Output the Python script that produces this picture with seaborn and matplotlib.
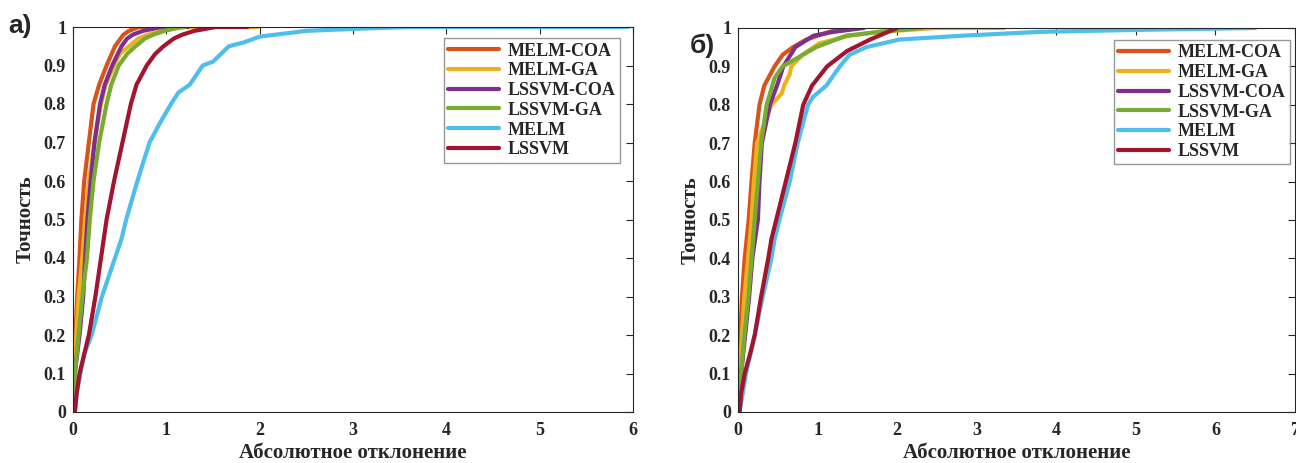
import numpy as np
import pandas as pd
import matplotlib
matplotlib.use("Agg")
import matplotlib.pyplot as plt
import seaborn as sns
from matplotlib.lines import Line2D

sns.set_theme(style="white")
plt.rcParams['font.family'] = ['Liberation Serif', 'DejaVu Serif']
plt.rcParams['font.weight'] = 'bold'

models = ["MELM-COA", "MELM-GA", "LSSVM-COA", "LSSVM-GA", "MELM", "LSSVM"]
colors = ["#D95319", "#EDB120", "#7E2F8E", "#77AC30", "#4DBEEE", "#A2142F"]

# ---- panel а) ----
a_melm_coa_x = [0, 0.01, 0.025, 0.045, 0.07, 0.09, 0.12, 0.17, 0.22, 0.28, 0.36, 0.45, 0.54, 0.6, 0.71, 0.8]
a_melm_coa_y = [0, 0.1, 0.2, 0.3, 0.4, 0.5, 0.6, 0.7, 0.8, 0.85, 0.9, 0.95, 0.98, 0.99, 1.0, 1.0]
a_melm_ga_x = [0, 0.015, 0.035, 0.06, 0.1, 0.13, 0.17, 0.23, 0.3, 0.35, 0.44, 0.5, 0.6, 0.7, 0.8, 0.95, 1.2, 1.98]
a_melm_ga_y = [0, 0.1, 0.2, 0.3, 0.4, 0.5, 0.6, 0.7, 0.8, 0.85, 0.9, 0.93, 0.95, 0.97, 0.98, 0.99, 1.0, 1.0]
a_lssvm_coa_x = [0, 0.02, 0.07, 0.11, 0.13, 0.155, 0.19, 0.23, 0.29, 0.34, 0.42, 0.52, 0.58, 0.64, 0.75, 0.95, 1.23]
a_lssvm_coa_y = [0, 0.1, 0.2, 0.3, 0.4, 0.5, 0.6, 0.7, 0.8, 0.85, 0.9, 0.95, 0.97, 0.98, 0.99, 1.0, 1.0]
a_lssvm_ga_x = [0, 0.02, 0.06, 0.1, 0.15, 0.18, 0.22, 0.28, 0.36, 0.41, 0.49, 0.58, 0.67, 0.77, 0.86, 0.98, 1.15, 1.2]
a_lssvm_ga_y = [0, 0.1, 0.2, 0.3, 0.4, 0.5, 0.6, 0.7, 0.8, 0.85, 0.9, 0.93, 0.95, 0.97, 0.98, 0.99, 1.0, 1.0]
a_melm_x = [0.02, 0.04, 0.08, 0.12, 0.2, 0.31, 0.45, 0.52, 0.57, 0.69, 0.82, 0.93, 1.05, 1.13, 1.25, 1.39, 1.5, 1.67, 1.83, 2.0, 2.5, 3.0, 3.6, 5.95]
a_melm_y = [0, 0.05, 0.1, 0.15, 0.2, 0.3, 0.4, 0.45, 0.5, 0.6, 0.7, 0.75, 0.8, 0.83, 0.85, 0.9, 0.91, 0.95, 0.96, 0.975, 0.99, 0.995, 1.0, 1.0]
a_lssvm_x = [0.02, 0.04, 0.07, 0.12, 0.17, 0.24, 0.3, 0.36, 0.44, 0.53, 0.62, 0.68, 0.79, 0.88, 0.97, 1.08, 1.17, 1.3, 1.53, 1.87]
a_lssvm_y = [0, 0.05, 0.1, 0.15, 0.2, 0.3, 0.4, 0.5, 0.6, 0.7, 0.8, 0.85, 0.9, 0.93, 0.95, 0.97, 0.98, 0.99, 1.0, 1.0]

# ---- panel б) ----
b_melm_coa_x = [0, 0.014, 0.03, 0.05, 0.084, 0.134, 0.17, 0.21, 0.27, 0.33, 0.46, 0.56, 0.69, 0.86, 1.15, 1.35, 1.5]
b_melm_coa_y = [0, 0.1, 0.2, 0.3, 0.4, 0.5, 0.6, 0.7, 0.8, 0.85, 0.9, 0.93, 0.95, 0.97, 0.99, 1.0, 1.0]
b_melm_ga_x = [0, 0.02, 0.05, 0.08, 0.126, 0.17, 0.2, 0.24, 0.33, 0.42, 0.55, 0.58, 0.65, 0.67, 0.81, 1.02, 1.4, 1.78, 2.5, 3.35]
b_melm_ga_y = [0, 0.1, 0.2, 0.3, 0.4, 0.5, 0.6, 0.7, 0.75, 0.8, 0.83, 0.85, 0.88, 0.9, 0.93, 0.96, 0.98, 0.99, 1.0, 1.0]
b_lssvm_coa_x = [0, 0.04, 0.09, 0.14, 0.18, 0.25, 0.27, 0.3, 0.4, 0.49, 0.57, 0.72, 0.95, 1.2, 1.58]
b_lssvm_coa_y = [0, 0.1, 0.2, 0.3, 0.4, 0.5, 0.6, 0.7, 0.8, 0.85, 0.9, 0.95, 0.98, 0.99, 1.0]
b_lssvm_ga_x = [0, 0.04, 0.08, 0.13, 0.17, 0.21, 0.25, 0.29, 0.36, 0.46, 0.56, 0.73, 0.98, 1.36, 1.78, 2.3]
b_lssvm_ga_y = [0, 0.1, 0.2, 0.3, 0.4, 0.5, 0.6, 0.7, 0.8, 0.87, 0.9, 0.92, 0.95, 0.98, 0.99, 1.0]
b_melm_x = [0.02, 0.06, 0.1, 0.21, 0.31, 0.42, 0.46, 0.52, 0.65, 0.75, 0.88, 0.94, 1.11, 1.28, 1.4, 1.61, 2.03, 2.82, 3.8, 5.0, 6.5]
b_melm_y = [0, 0.05, 0.1, 0.2, 0.3, 0.4, 0.45, 0.5, 0.6, 0.7, 0.8, 0.82, 0.85, 0.9, 0.93, 0.95, 0.97, 0.98, 0.99, 0.995, 1.0]
b_lssvm_x = [0.02, 0.04, 0.084, 0.15, 0.21, 0.29, 0.38, 0.42, 0.48, 0.6, 0.72, 0.82, 0.93, 1.12, 1.37, 1.66, 2.0]
b_lssvm_y = [0, 0.05, 0.1, 0.15, 0.2, 0.3, 0.4, 0.45, 0.5, 0.6, 0.7, 0.8, 0.85, 0.9, 0.94, 0.97, 1.0]

panel_a = [(a_melm_coa_x, a_melm_coa_y), (a_melm_ga_x, a_melm_ga_y), (a_lssvm_coa_x, a_lssvm_coa_y),
           (a_lssvm_ga_x, a_lssvm_ga_y), (a_melm_x, a_melm_y), (a_lssvm_x, a_lssvm_y)]
panel_b = [(b_melm_coa_x, b_melm_coa_y), (b_melm_ga_x, b_melm_ga_y), (b_lssvm_coa_x, b_lssvm_coa_y),
           (b_lssvm_ga_x, b_lssvm_ga_y), (b_melm_x, b_melm_y), (b_lssvm_x, b_lssvm_y)]


def to_df(panel):
    frames = []
    for name, (xs, ys) in zip(models, panel):
        frames.append(pd.DataFrame({"x": xs, "y": ys, "model": name}))
    return pd.concat(frames, ignore_index=True)


W, H = 1296, 463
fig = plt.figure(figsize=(W / 100, H / 100), dpi=100)
ax1 = fig.add_axes([73 / W, 1 - 412 / H, (633 - 73) / W, (412 - 27) / H])
ax2 = fig.add_axes([738 / W, 1 - 412 / H, (1295 - 738) / W, (412 - 28) / H])

yticks = [round(0.1 * i, 1) for i in range(11)]
ytick_labels = [f"{v:g}" for v in yticks]

for ax, panel, xmax, anchor in [(ax1, panel_a, 6, (0.977, 0.971)), (ax2, panel_b, 7, (0.991, 0.969))]:
    df = to_df(panel)
    sns.lineplot(data=df, x="x", y="y", hue="model", hue_order=models, palette=colors,
                 sort=False, estimator=None, linewidth=3, ax=ax, legend=False)
    ax.set_xlim(0, xmax)
    ax.set_ylim(0, 1)
    ax.set_xticks(range(xmax + 1))
    ax.set_xticklabels([str(i) for i in range(xmax + 1)])
    ax.set_yticks(yticks)
    ax.set_yticklabels(ytick_labels)
    ax.tick_params(direction="in", top=True, right=True, length=5, width=0.8,
                   labelsize=13, colors="#262626")
    ax.tick_params(axis="x", pad=7)
    ax.tick_params(axis="y", pad=5)
    for lab in ax.get_xticklabels() + ax.get_yticklabels():
        lab.set_fontweight("bold")
    for s in ax.spines.values():
        s.set_color("#262626")
        s.set_linewidth(0.8)
    ax.set_xlabel("Абсолютное отклонение", fontsize=15, fontweight="bold", labelpad=3)
    ax.set_ylabel("Точность", fontsize=15, fontweight="bold", labelpad=6)
    handles = [Line2D([0], [0], color=c, lw=3) for c in colors]
    leg = ax.legend(handles, models, loc="upper right", bbox_to_anchor=anchor, borderaxespad=0,
                    fancybox=False, frameon=True, handlelength=2.8, labelspacing=0.15,
                    handletextpad=0.5, borderpad=0.25,
                    prop={"family": "Liberation Serif", "weight": "bold", "size": 13})
    leg.get_frame().set_edgecolor("#7f7f7f")
    leg.get_frame().set_linewidth(1.0)

fig.text(8 / W, 1 - 33 / H, "а)", fontsize=19, fontweight="bold", family="Liberation Sans", va="baseline")
fig.text(690 / W, 1 - 53 / H, "б)", fontsize=19, fontweight="bold", family="Liberation Sans", va="baseline")

fig.savefig("out.png", dpi=100)
